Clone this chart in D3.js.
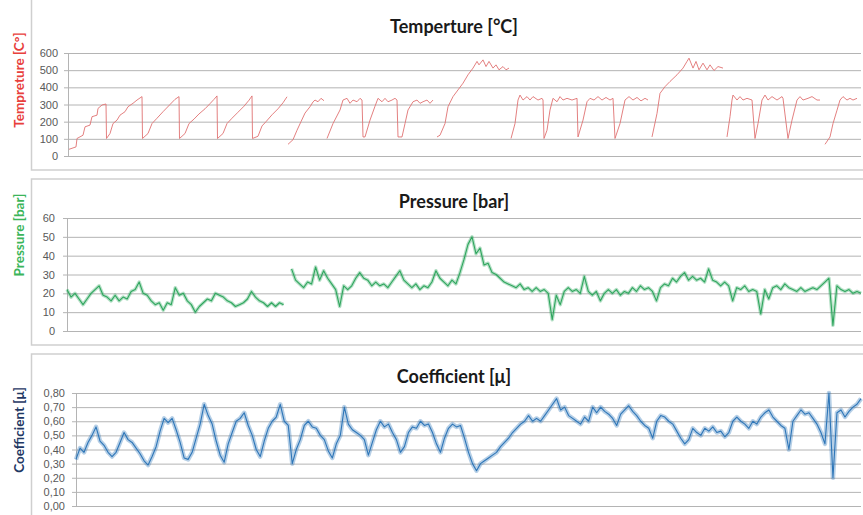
<!DOCTYPE html>
<html>
<head>
<meta charset="utf-8">
<script src="https://cdn.jsdelivr.net/npm/d3@7"></script>
<style>
  body { margin: 0; background: #fff; }
  svg { display: block; font-family: Lato, "Open Sans", sans-serif; }
</style>
</head>
<body>
<div id="chart"></div>
<script>
// ---- data ----
// temperature: [time, °C], null = gap in the record
var tempPoints = [
  [1,39],[8,53],[9,102],[15,121],[17,170],[22,180],[24,229],[29,238],[30,277],[34,297],[38,303],
  [38.5,102],[42,131],[45,189],[49,209],[52,238],[57,258],[60,287],[65,307],[69,326],[74,346],
  [74.5,102],[80,131],[84,189],[89,220],[95,258],[102,300],[107,330],[111,346],
  [111.5,102],[117,131],[121,189],[126,215],[131,245],[137,275],[142,305],[146,330],[149,350],
  [149.5,102],[155,131],[159,189],[164,220],[170,255],[176,290],[181,325],[184,350],
  [184.5,102],[190,115],[194,175],[198,200],[204,240],[210,275],[215,310],[219,345],[219.5,null],
  [220,68],[225,95],[229,150],[233,200],[237,250],[242,287],[245,315],[247,326],[250,316],[253,336],[256,322],[257,null],
  [259,102],[265,189],[272,268],[275,326],[279,336],[282,307],[285,326],[289,316],[292,336],[294,326],
  [295,111],[297,111],[302,209],[307,290],[310,336],[314,316],[317,336],[320,316],[324,326],[327,336],[329,326],
  [330,111],[334,111],[337,189],[340,268],[345,316],[349,326],[352,307],[355,316],[359,326],[362,307],[365,326],[367,null],
  [369,111],[372,121],[377,189],[380,287],[385,346],[390,385],[395,424],[400,473],[405,512],[409,551],[411,531],
  [415,560],[418,521],[421,551],[425,512],[428,531],[431,502],[435,521],[438,502],[441,512],[442,null],
  [443,102],[447,189],[450,326],[452,355],[455,326],[459,346],[462,326],[465,346],[470,326],[474,336],[475,326],
  [476,102],[479,150],[482,268],[485,336],[489,316],[492,346],[495,326],[499,336],[504,326],[509,336],
  [510,111],[515,209],[519,316],[522,336],[526,326],[530,346],[534,326],[538,341],[542,326],[545,336],
  [547,102],[552,189],[557,326],[561,346],[565,326],[569,341],[573,321],[577,336],[580,326],[582,null],
  [584,111],[589,248],[592,365],[597,404],[602,434],[609,473],[615,512],[619,551],[621,570],[625,512],[628,551],
  [631,502],[635,541],[639,502],[642,531],[646,498],[650,521],[655,512],[657,null],
  [659,111],[662,229],[664,326],[665,355],[669,326],[672,346],[675,326],[679,336],[684,326],
  [687,102],[690,189],[694,326],[697,355],[700,326],[704,346],[709,326],[714,346],[715,336],
  [720,102],[724,209],[729,326],[732,346],[735,326],[740,336],[744,346],[749,326],[752,326],[754,null],
  [757,68],[762,111],[765,189],[769,267],[772,326],[775,346],[779,326],[782,336],[785,326],[789,336]
];
var tempTicks = [0, 100, 200, 300, 400, 500, 600];

// pressure [bar], one sample per step, null = gap
var pressureValues = [
  22,18,20,17,14,17,20,22,24,19, 18,16,19,16,18,17,21,22,26,20,
  19,16,14,15,11,15,14,23,19,20, 16,14,10,13,15,17,16,20,19,18,
  16,15,13,14,15,17,21,18,16,15, 13,15,13,15,14,null,33,27,25,23,
  26,25,34,27,32,28,25,22,13,24, 22,24,28,31,28,27,24,26,24,25,
  23,26,29,32,27,25,23,25,22,24, 23,26,32,28,26,24,27,25,31,38,
  46,50,41,44,35,36,31,30,28,26, 25,24,23,25,22,23,21,23,21,22,
  20,6,19,14,21,23,21,22,20,29, 21,19,21,16,20,22,20,22,19,21,
  20,23,21,24,22,23,21,16,23,25, 24,28,26,29,31,27,29,27,28,26,
  33,27,26,24,26,24,16,23,22,24, 21,22,21,9,22,17,23,24,22,25,
  23,22,21,23,21,22,23,22,24,26, 28,3,24,22,21,22,20,21,20
];
var pressureTicks = [0, 10, 20, 30, 40, 50, 60];

// friction coefficient [µ], one sample per step
var coeffValues = [
  0.33,0.41,0.38,0.45,0.50,0.56,0.46,0.43,0.38,0.35, 0.38,0.45,0.52,0.47,0.45,0.41,0.37,0.32,0.29,0.35,
  0.42,0.53,0.62,0.59,0.62,0.54,0.45,0.34,0.33,0.38, 0.48,0.58,0.72,0.64,0.58,0.46,0.36,0.31,0.44,0.52,
  0.60,0.62,0.66,0.57,0.50,0.40,0.35,0.46,0.55,0.60, 0.63,0.72,0.60,0.57,0.30,0.40,0.47,0.57,0.60,0.56,
  0.55,0.50,0.47,0.39,0.34,0.44,0.50,0.70,0.58,0.54, 0.52,0.50,0.47,0.36,0.45,0.54,0.60,0.56,0.58,0.52,
  0.47,0.38,0.42,0.52,0.56,0.55,0.60,0.57,0.58,0.52, 0.44,0.38,0.48,0.55,0.58,0.56,0.57,0.48,0.38,0.30,
  0.25,0.30,0.32,0.34,0.36,0.38,0.42,0.45,0.48,0.52, 0.55,0.58,0.60,0.64,0.60,0.62,0.60,0.64,0.68,0.72,
  0.76,0.68,0.70,0.64,0.62,0.60,0.58,0.63,0.60,0.70, 0.66,0.70,0.67,0.65,0.62,0.57,0.65,0.68,0.71,0.67,
  0.64,0.60,0.57,0.55,0.48,0.60,0.64,0.63,0.60,0.58, 0.53,0.48,0.44,0.47,0.55,0.52,0.50,0.55,0.53,0.56,
  0.52,0.53,0.49,0.52,0.60,0.63,0.60,0.58,0.55,0.60, 0.58,0.63,0.66,0.68,0.63,0.60,0.57,0.55,0.40,0.60,
  0.64,0.68,0.65,0.66,0.62,0.58,0.52,0.44,0.80,0.20, 0.66,0.68,0.63,0.67,0.70,0.72,0.76
];
var coeffTicks = [0, 0.1, 0.2, 0.3, 0.4, 0.5, 0.6, 0.7, 0.8];

// ---- layout ----
var WIDTH = 863, HEIGHT = 515;

var svg = d3.select("#chart")
    .append("svg")
    .attr("width", WIDTH)
    .attr("height", HEIGHT);

var commaFmt = d3.formatLocale({ decimal: ",", thousands: ".", grouping: [3], currency: ["", ""] }).format(".2f");

function drawPanel(p) {
    // panel frame
    svg.append("rect")
        .attr("x", 31.5).attr("y", p.boxTop)
        .attr("width", 860).attr("height", p.boxBottom - p.boxTop)
        .attr("fill", "none")
        .attr("stroke", "#cfcfcf")
        .attr("stroke-width", 1.5);

    var x = d3.scaleLinear().domain(p.xDomain).range([p.left, 861]);
    var y = d3.scaleLinear().domain([0, p.ticks[p.ticks.length - 1]]).range([p.bottom, p.top]);

    // gridlines
    svg.append("g")
        .attr("transform", "translate(" + p.left + ",0)")
        .call(d3.axisRight(y).tickValues(p.ticks).tickSize(861 - p.left).tickFormat(""))
        .call(function(g) {
            g.select(".domain").remove();
            g.selectAll("line").attr("stroke", "#b4b4b4");
        });

    // y axis with labels
    svg.append("g")
        .attr("transform", "translate(" + p.left + ",0)")
        .call(d3.axisLeft(y).tickValues(p.ticks).tickSize(4).tickPadding(p.pad).tickFormat(p.fmt))
        .call(function(g) {
            g.select(".domain").attr("stroke", "#b4b4b4");
            g.selectAll("line").attr("stroke", "#b4b4b4");
            g.selectAll("text").attr("fill", "#595959").style("font-size", "11px");
        });

    // the series
    var line = d3.line()
        .defined(function(d) { return d[1] != null; })
        .x(function(d) { return x(d[0]); })
        .y(function(d) { return y(d[1]); });

    // soft band under noisy signals
    if (p.halo) {
        svg.append("path")
            .datum(p.data)
            .attr("d", line)
            .attr("fill", "none")
            .attr("stroke", p.color)
            .attr("stroke-opacity", 0.35)
            .attr("stroke-width", p.halo)
            .attr("stroke-linejoin", "round");
    }

    svg.append("path")
        .datum(p.data)
        .attr("d", line)
        .attr("fill", "none")
        .attr("stroke", p.color)
        .attr("stroke-width", p.width)
        .attr("stroke-linejoin", "round");

    // chart title
    svg.append("text")
        .attr("x", 454).attr("y", p.titleY)
        .attr("text-anchor", "middle")
        .style("font-size", "18px")
        .style("font-weight", "bold")
        .attr("fill", "#1a1a1a")
        .text(p.title);

    // y axis title
    svg.append("text")
        .attr("transform", "translate(24," + p.yTitleMid + ") rotate(-90)")
        .attr("text-anchor", "middle")
        .style("font-size", "13.5px")
        .style("font-weight", "bold")
        .attr("fill", p.yTitleColor)
        .text(p.yTitle);
}

drawPanel({
    boxTop: -5, boxBottom: 170, top: 53, bottom: 156, left: 68, pad: 6,
    xDomain: [0, 793], ticks: tempTicks, fmt: d3.format("d"),
    data: tempPoints, color: "#e07272", width: 0.9, halo: 0,
    title: "Temperture [°C]", titleY: 33,
    yTitle: "Tempreture [C°]", yTitleMid: 80, yTitleColor: "#e8403c"
});

drawPanel({
    boxTop: 179, boxBottom: 345, top: 218, bottom: 331, left: 67, pad: 8,
    xDomain: [0, pressureValues.length - 1], ticks: pressureTicks, fmt: d3.format("d"),
    data: pressureValues.map(function(v, i) { return [i, v]; }),
    color: "#2fa65e", width: 1.1, halo: 3.5,
    title: "Pressure [bar]", titleY: 208,
    yTitle: "Pressure [bar]", yTitleMid: 235, yTitleColor: "#3bb55a"
});

drawPanel({
    boxTop: 354, boxBottom: 530, top: 393, bottom: 506, left: 76, pad: 7,
    xDomain: [0, coeffValues.length - 1], ticks: coeffTicks, fmt: commaFmt,
    data: coeffValues.map(function(v, i) { return [i, v]; }),
    color: "#2e76b8", width: 1.1, halo: 4.5,
    title: "Coefficient [μ]", titleY: 383,
    yTitle: "Coefficient [μ]", yTitleMid: 430, yTitleColor: "#1f3864"
});
</script>
</body>
</html>
